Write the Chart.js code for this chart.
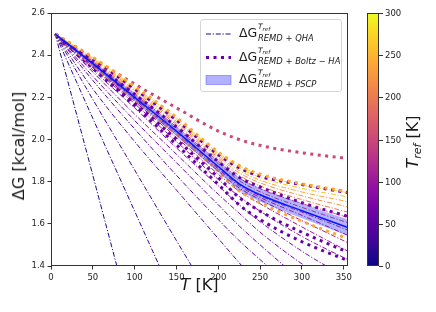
<!DOCTYPE html>
<html>
<head>
<meta charset="utf-8">
<title>ΔG vs T</title>
<script src="https://cdn.jsdelivr.net/npm/chart.js@4.4.1/dist/chart.umd.min.js"></script>
<style>
  html, body { margin: 0; padding: 0; background: #fff; }
  #wrap { position: relative; width: 436px; height: 312px; overflow: hidden;
          font-family: "DejaVu Sans", sans-serif; color: #1a1a1a; }
  #chart { position: absolute; left: 0; top: 0; }
  .ttl { position: absolute; white-space: nowrap; font-size: 16px; line-height: 1; }
  #ylab { left: 18.5px; top: 146px; transform: translate(-50%, -50%) rotate(-90deg); }
  #xlab { left: 199.5px; top: 285px; transform: translate(-50%, -50%); }
  #cblab { left: 413px; top: 142px; transform: translate(-50%, -50%) rotate(-90deg); }
  .ttl sub { font-size: 11px; font-style: italic; vertical-align: -3px; line-height: 0; }
  #legend { position: absolute; left: 200px; top: 19px; width: 140px; height: 71px;
            border: 1px solid #d6d6d6; border-radius: 3px; background: rgba(255,255,255,0.8); }
  #legend svg { position: absolute; left: 0; top: 0; }
  .lg { position: absolute; white-space: nowrap; line-height: 1; }
  #cbar { position: absolute; left: 367px; top: 13px; width: 12px; height: 253px;
          border: 1px solid #333; box-sizing: border-box; }
  .cbt { position: absolute; height: 1px; width: 3.5px; background: #333; left: 379px; }
  .cbl { position: absolute; left: 385px; font-size: 8.5px; line-height: 1; transform: translateY(-50%); }
</style>
</head>
<body>
<div id="wrap">
  <canvas id="chart" width="436" height="312"></canvas>
  <div class="ttl" id="ylab">ΔG [kcal/mol]</div>
  <div class="ttl" id="xlab"><i>T</i> [K]</div>
  <div id="legend"></div>
  <div id="cbar"></div>
  <div class="ttl" id="cblab"><i>T</i><sub>ref</sub> [K]</div>
</div>
<script>
// temperature grid (K) shared by all curves
const tGrid = [5, 50, 100, 150, 200, 225, 250, 300, 355];
const xTicks = [0, 50, 100, 150, 200, 250, 300, 350];
const yTicks = [1.4, 1.6, 1.8, 2.0, 2.2, 2.4, 2.6];
const cbTicks = [0, 50, 100, 150, 200, 250, 300];

// REMD + QHA, one row per T_ref (null = off the plot)
const qhaTref = [10, 20, 30, 40, 50, 60, 70, 80, 90, 100, 110, 120, 140, 160, 180, 200, 220, 240, 260, 280];
const qhaDG = [
  [2.50, 1.83, 1.08, null, null, null, null, null, null],
  [2.50, 2.10, 1.66, 1.22, null, null, null, null, null],
  [2.50, 2.19, 1.855, 1.52, 1.19, null, null, null, null],
  [2.50, 2.24, 1.99, 1.76, 1.53, 1.415, 1.30, null, null],
  [2.50, 2.28, 2.05, 1.83, 1.62, 1.52, 1.43, 1.26, null],
  [2.50, 2.30, 2.09, 1.89, 1.69, 1.59, 1.50, 1.33, 1.16],
  [2.50, 2.32, 2.12, 1.93, 1.74, 1.65, 1.56, 1.41, 1.27],
  [2.50, 2.33, 2.15, 1.96, 1.78, 1.69, 1.61, 1.47, 1.34],
  [2.50, 2.34, 2.17, 1.99, 1.81, 1.73, 1.66, 1.54, 1.43],
  [2.50, 2.345, 2.18, 2.01, 1.835, 1.755, 1.695, 1.585, 1.47],
  [2.50, 2.35, 2.19, 2.02, 1.85, 1.77, 1.715, 1.615, 1.51],
  [2.50, 2.355, 2.195, 2.03, 1.86, 1.78, 1.725, 1.64, 1.545],
  [2.50, 2.358, 2.198, 2.036, 1.866, 1.786, 1.733, 1.655, 1.57],
  [2.50, 2.363, 2.207, 2.05, 1.885, 1.805, 1.752, 1.678, 1.605],
  [2.50, 2.367, 2.214, 2.06, 1.897, 1.818, 1.766, 1.697, 1.63],
  [2.50, 2.371, 2.221, 2.07, 1.907, 1.83, 1.78, 1.715, 1.655],
  [2.50, 2.375, 2.228, 2.078, 1.915, 1.842, 1.794, 1.733, 1.68],
  [2.50, 2.379, 2.235, 2.086, 1.922, 1.853, 1.807, 1.751, 1.705],
  [2.50, 2.383, 2.242, 2.094, 1.93, 1.864, 1.82, 1.768, 1.728],
  [2.50, 2.387, 2.249, 2.102, 1.937, 1.874, 1.832, 1.784, 1.748]
];

// REMD + Boltz-HA (first row drawn on top)
const boltzTref = [240, 60, 150, 70, 240, 60, 60];
const boltzDG = [
  [2.50, 2.39, 2.252, 2.105, 1.94, 1.876, 1.835, 1.79, 1.752],
  [2.50, 2.382, 2.24, 2.092, 1.928, 1.866, 1.826, 1.786, 1.748],
  [2.50, 2.385, 2.263, 2.15, 2.04, 2.0, 1.972, 1.937, 1.91],
  [2.50, 2.366, 2.215, 2.06, 1.895, 1.82, 1.775, 1.70, 1.635],
  [2.50, 2.352, 2.19, 2.025, 1.85, 1.757, 1.70, 1.612, 1.53],
  [2.50, 2.345, 2.175, 2.0, 1.82, 1.725, 1.66, 1.56, 1.465],
  [2.50, 2.338, 2.16, 1.975, 1.787, 1.69, 1.62, 1.515, 1.425]
];

// REMD + PSCP with its uncertainty band
const pscpDG = [2.500, 2.360, 2.200, 2.040, 1.872, 1.790, 1.738, 1.662, 1.582];
const pscpLo = [2.495, 2.348, 2.182, 2.018, 1.845, 1.760, 1.706, 1.627, 1.544];
const pscpHi = [2.505, 2.372, 2.218, 2.062, 1.899, 1.820, 1.770, 1.697, 1.620];

const plasmaStops = ['#0d0887', '#41049d', '#6a00a8', '#8f0da4', '#b12a90', '#cc4778',
                     '#e16462', '#f2844b', '#fca636', '#fcce25', '#f0f921'];

function hexRgb(h) {
  return [1, 3, 5].map(i => parseInt(h.slice(i, i + 2), 16));
}
function plasma(f) {
  f = Math.min(1, Math.max(0, f));
  const p = f * (plasmaStops.length - 1);
  const i = Math.min(plasmaStops.length - 2, Math.floor(p));
  const t = p - i;
  const a = hexRgb(plasmaStops[i]), b = hexRgb(plasmaStops[i + 1]);
  const c = a.map((v, k) => Math.round(v + (b[k] - v) * t));
  return `rgb(${c[0]},${c[1]},${c[2]})`;
}
const tColor = t => plasma(t / 300);
const pts = ys => tGrid.map((t, i) => ({ x: t, y: ys[i] }));

const datasets = [];
datasets.push({ data: pts(pscpDG), borderColor: '#0a14ff', borderWidth: 1.5, order: 0 });
datasets.push({ data: pts(pscpLo), borderColor: 'rgba(0,0,0,0)', borderWidth: 0, order: 1 });
datasets.push({ data: pts(pscpHi), borderColor: 'rgba(0,0,0,0)', borderWidth: 0, order: 1,
                fill: '-1', backgroundColor: 'rgba(0,0,255,0.3)' });
boltzDG.forEach((row, i) => datasets.push({
  data: pts(row), borderColor: tColor(boltzTref[i]), borderWidth: 3,
  borderDash: [3, 4.5], borderCapStyle: 'butt', order: 2
}));
qhaDG.forEach((row, i) => datasets.push({
  data: pts(row), borderColor: tColor(qhaTref[i]), borderWidth: 1,
  borderDash: [5, 1.8, 1.2, 1.8], order: 3
}));

// full box round the plot, like the reference's spines
const frame = {
  id: 'frame',
  afterDatasetsDraw(chart) {
    const { ctx, chartArea: a } = chart;
    ctx.save();
    ctx.strokeStyle = '#333';
    ctx.lineWidth = 1;
    ctx.strokeRect(a.left + 0.5, a.top + 0.5, a.right - a.left - 1, a.bottom - a.top - 1);
    ctx.restore();
  }
};

const tickFont = { family: 'DejaVu Sans', size: 8.5 };
new Chart(document.getElementById('chart'), {
  type: 'line',
  data: { datasets },
  options: {
    responsive: false,
    devicePixelRatio: 1,
    animation: false,
    layout: { padding: { left: 0, top: 13, right: 88, bottom: 0 } },
    elements: { point: { radius: 0 }, line: { tension: 0, cubicInterpolationMode: 'monotone', fill: false } },
    plugins: { legend: { display: false }, tooltip: { enabled: false } },
    scales: {
      x: {
        type: 'linear', min: 0, max: 355,
        afterBuildTicks: s => { s.ticks = xTicks.map(v => ({ value: v })); },
        afterFit: s => { s.height = 46; },
        ticks: { font: tickFont, color: '#222', padding: 3, maxRotation: 0, callback: v => String(v) },
        grid: { drawOnChartArea: false, tickLength: 3.5, color: '#333' },
        border: { display: false }
      },
      y: {
        type: 'linear', min: 1.4, max: 2.6,
        afterBuildTicks: s => { s.ticks = yTicks.map(v => ({ value: v })); },
        afterFit: s => { s.width = 51; },
        ticks: { font: tickFont, color: '#222', padding: 2.5, callback: v => v.toFixed(1) },
        grid: { drawOnChartArea: false, tickLength: 3.5, color: '#333' },
        border: { display: false }
      }
    }
  },
  plugins: [frame]
});

// legend with handles and math-style labels
const legendRows = [
  { c: 14, sub: 'REMD + QHA' },
  { c: 37.5, sub: 'REMD + Boltz − HA' },
  { c: 60, sub: 'REMD + PSCP' }
];
const lg = document.getElementById('legend');
let html = `<svg width="140" height="71">
  <line x1="5" x2="30" y1="14" y2="14" stroke="${tColor(qhaTref[0])}" stroke-width="1" stroke-dasharray="5 1.8 1.2 1.8"/>
  <line x1="5" x2="30" y1="37.5" y2="37.5" stroke="${tColor(boltzTref[1])}" stroke-width="3" stroke-dasharray="3 4.5"/>
  <rect x="5" y="55.5" width="25" height="9" fill="rgba(0,0,255,0.3)" stroke="rgba(0,0,255,0.3)"/>
</svg>`;
legendRows.forEach(r => {
  html += `<div class="lg" style="left:38px;top:${r.c - 6.8}px;font-size:12.5px">ΔG</div>`;
  html += `<div class="lg" style="left:57px;top:${r.c - 10.8}px;font-size:7.5px;font-style:italic">T<span style="font-size:5.5px;position:relative;top:1.5px">ref</span></div>`;
  html += `<div class="lg" style="left:57px;top:${r.c - 0.4}px;font-size:8.4px;font-style:italic">${r.sub}</div>`;
});
lg.innerHTML = html;

// colorbar
const cbar = document.getElementById('cbar');
cbar.style.background = 'linear-gradient(to top, ' +
  plasmaStops.map((c, i) => `${c} ${(i * 10)}%`).join(', ') + ')';
const wrap = document.getElementById('wrap');
cbTicks.forEach(v => {
  const y = 13 + 253 * (1 - v / 300);
  const t = document.createElement('div');
  t.className = 'cbt';
  t.style.top = (Math.round(y) - 0.5) + 'px';
  wrap.appendChild(t);
  const l = document.createElement('div');
  l.className = 'cbl';
  l.style.top = y + 'px';
  l.textContent = v;
  wrap.appendChild(l);
});
</script>
</body>
</html>
